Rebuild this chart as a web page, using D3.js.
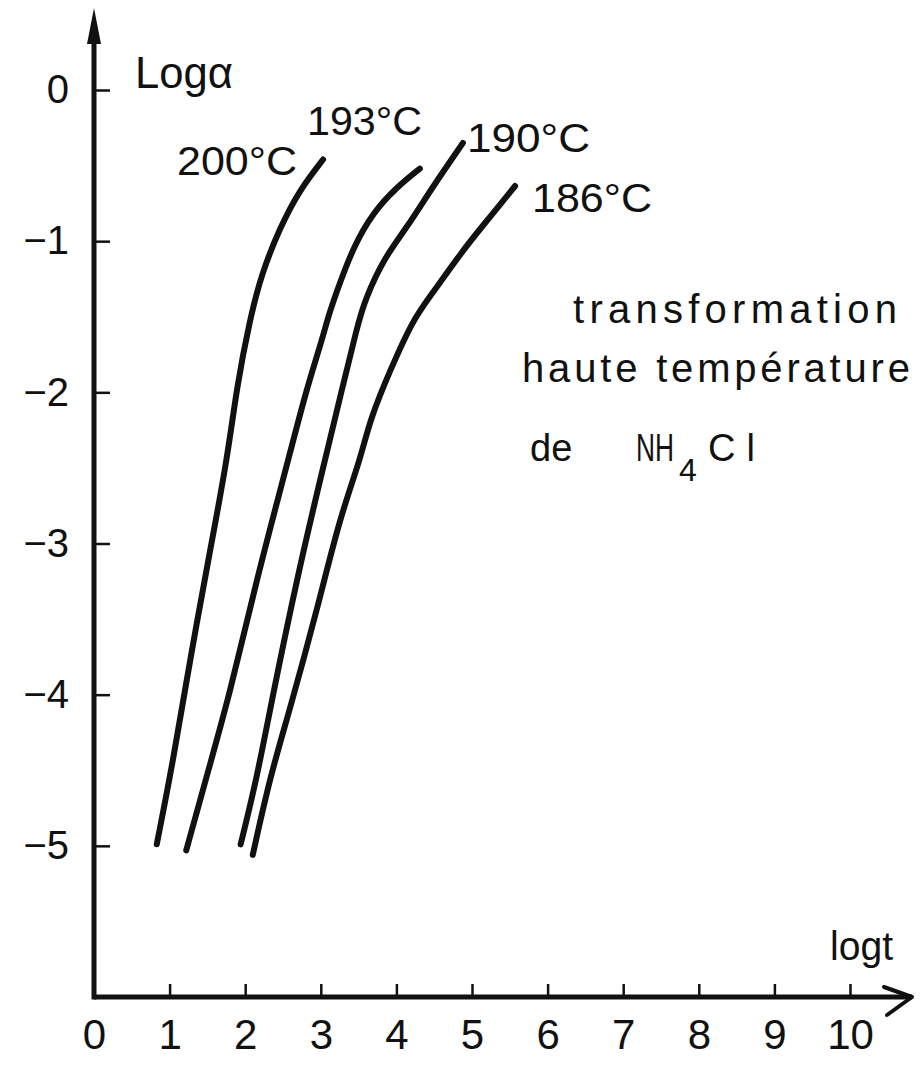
<!DOCTYPE html>
<html>
<head>
<meta charset="utf-8">
<script src="https://cdn.jsdelivr.net/npm/d3@7"></script>
<style>
  html, body { margin: 0; padding: 0; background: #fff; }
  svg { display: block; }
  text { font-family: "Liberation Sans", Arial, sans-serif; fill: #111; }
</style>
</head>
<body>
<svg id="chart" width="921" height="1065"></svg>
<script>
// ---- data (log t, log alpha) ----
const seriesNames = ["200°C", "193°C", "190°C", "186°C"];
const logt200 = [0.83, 1.05, 1.27, 1.53, 1.76, 1.89, 2.06, 2.22, 2.46, 2.72, 3.03];
const loga200 = [-4.99, -4.43, -3.77, -3.06, -2.45, -1.96, -1.52, -1.21, -0.91, -0.66, -0.46];
const logt193 = [1.22, 1.49, 1.80, 2.16, 2.50, 2.82, 2.99, 3.12, 3.25, 3.43, 3.69, 4.01, 4.31];
const loga193 = [-5.03, -4.54, -3.99, -3.22, -2.58, -1.96, -1.70, -1.46, -1.28, -1.04, -0.81, -0.64, -0.52];
const logt190 = [1.94, 2.16, 2.37, 2.69, 2.99, 3.29, 3.48, 3.58, 3.85, 4.14, 4.48, 4.88];
const loga190 = [-4.99, -4.54, -3.99, -3.22, -2.58, -1.96, -1.57, -1.39, -1.10, -0.91, -0.64, -0.35];
const logt186 = [2.10, 2.33, 2.59, 2.95, 3.25, 3.52, 3.65, 3.92, 4.22, 4.44, 4.88, 5.13, 5.57];
const loga186 = [-5.06, -4.54, -4.10, -3.44, -2.83, -2.45, -2.18, -1.85, -1.52, -1.37, -1.06, -0.906, -0.635];
const xTicks = [0, 1, 2, 3, 4, 5, 6, 7, 8, 9, 10];
const yTicks = [0, -1, -2, -3, -4, -5];
const xTitle = "logt";
const yTitle = "Logα";
const noteLines = ["transformation", "haute température"];

const svg = d3.select("#chart");
const x = d3.scaleLinear().domain([0, 10]).range([94, 850]);
const y = d3.scaleLinear().domain([-6, 0]).range([997, 90]);
const fmt = d => d < 0 ? "\u2212" + Math.abs(d) : String(d);

// ---- axes with ticks ----
const gx = svg.append("g").attr("transform", `translate(0,${y(-6)})`)
  .call(d3.axisBottom(x).tickValues(xTicks).tickSizeInner(-13).tickSizeOuter(0).tickPadding(22)
        .tickFormat(fmt));
gx.select(".domain").remove();
gx.selectAll(".tick line").attr("stroke", "#111").attr("stroke-width", 2.5)
  .filter(d => d === 0).remove();
gx.selectAll(".tick text").attr("font-size", 42).attr("fill", "#111")
  .attr("font-family", "Liberation Sans, Arial, sans-serif");

const gy = svg.append("g").attr("transform", `translate(${x(0) + 1},0)`)
  .call(d3.axisLeft(y).tickValues(yTicks).tickSizeInner(-15).tickSizeOuter(0).tickPadding(26)
        .tickFormat(fmt));
gy.select(".domain").remove();
gy.selectAll(".tick line").attr("stroke", "#111").attr("stroke-width", 2.5);
gy.selectAll(".tick text").attr("font-size", 40).attr("fill", "#111")
  .attr("font-family", "Liberation Sans, Arial, sans-serif");

// axis lines
svg.append("line").attr("x1", x(0)).attr("x2", 912).attr("y1", y(-6)).attr("y2", y(-6))
  .attr("stroke", "#111").attr("stroke-width", 5);
svg.append("line").attr("x1", x(0)).attr("x2", x(0)).attr("y1", y(-6) + 2.5).attr("y2", 30)
  .attr("stroke", "#111").attr("stroke-width", 5);
// y arrow (filled)
svg.append("path").attr("d", `M${x(0)},8 L${x(0) - 7},44 L${x(0) + 7},44 Z`).attr("fill", "#111");
// x arrow (open chevron)
svg.append("path").attr("d", `M884,987 L912,${y(-6)} L887,1015`)
  .attr("fill", "none").attr("stroke", "#111").attr("stroke-width", 4)
  .attr("stroke-linecap", "round").attr("stroke-linejoin", "round");

// axis titles
svg.append("text").attr("x", 135).attr("y", 88).attr("font-size", 44)
  .attr("textLength", 98).attr("lengthAdjust", "spacingAndGlyphs").text(yTitle);
svg.append("text").attr("x", 830).attr("y", 960).attr("font-size", 40)
  .attr("textLength", 63).attr("lengthAdjust", "spacingAndGlyphs").text(xTitle);

// ---- curves ----
const series = [
  { name: seriesNames[0], xs: logt200, ys: loga200 },
  { name: seriesNames[1], xs: logt193, ys: loga193 },
  { name: seriesNames[2], xs: logt190, ys: loga190 },
  { name: seriesNames[3], xs: logt186, ys: loga186 }
];
const line = d3.line().x(d => x(d[0])).y(d => y(d[1])).curve(d3.curveBasis);
svg.append("g").selectAll("path").data(series).join("path")
  .attr("d", s => line(s.xs.map((v, i) => [v, s.ys[i]])))
  .attr("fill", "none").attr("stroke", "#111").attr("stroke-width", 6)
  .attr("stroke-linecap", "round").attr("stroke-linejoin", "round");

// curve labels
const labelPos = [
  { x: 177, y: 175, w: 120 },
  { x: 307, y: 135, w: 115 },
  { x: 467, y: 152, w: 123 },
  { x: 532, y: 212, w: 120 }
];
svg.append("g").selectAll("text").data(series).join("text")
  .attr("x", (d, i) => labelPos[i].x).attr("y", (d, i) => labelPos[i].y)
  .attr("font-size", 41).attr("textLength", (d, i) => labelPos[i].w)
  .attr("lengthAdjust", "spacingAndGlyphs").text(d => d.name);

// annotation
svg.append("text").attr("x", 573).attr("y", 323).attr("font-size", 40)
  .attr("textLength", 324).attr("lengthAdjust", "spacing").text(noteLines[0]);
svg.append("text").attr("x", 522).attr("y", 382).attr("font-size", 40)
  .attr("textLength", 388).attr("lengthAdjust", "spacing").text(noteLines[1]);
const t3 = svg.append("text").attr("font-size", 38).attr("x", 530).attr("y", 461);
t3.append("tspan").text("de");
t3.append("tspan").attr("x", 636).attr("y", 461).attr("textLength", 38)
  .attr("lengthAdjust", "spacingAndGlyphs").text("NH");
t3.append("tspan").attr("x", 679).attr("y", 481).attr("font-size", 32).text("4");
t3.append("tspan").attr("x", 708).attr("y", 461).attr("textLength", 47)
  .attr("lengthAdjust", "spacing").text("Cl");
</script>
</body>
</html>
